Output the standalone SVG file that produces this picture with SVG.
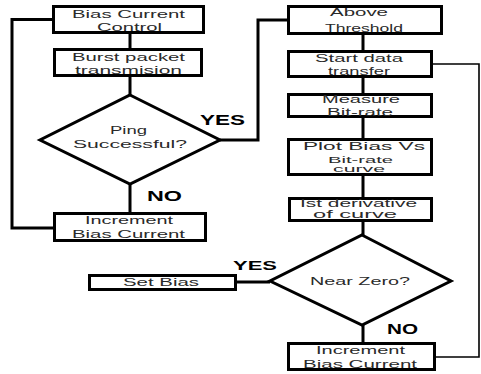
<svg xmlns="http://www.w3.org/2000/svg" width="481" height="374" viewBox="0 0 481 374">
<style>
.box{fill:#fff;stroke:#000;stroke-width:3}
.dia{fill:#fff;stroke:#000;stroke-width:3;stroke-linejoin:miter}
.ln{fill:none;stroke:#000;stroke-width:3}
.thin{fill:none;stroke:#000;stroke-width:1.6}
.t{font-family:"Liberation Sans",Arial,sans-serif;font-size:11px;fill:#2a2a2a}
.s{font-size:10px}
.xs{font-size:9px}
.b{font-family:"Liberation Sans",Arial,sans-serif;font-size:15px;font-weight:bold;fill:#000}
</style>
<rect width="481" height="374" fill="#fff"/>
<g id="connectors">
<path class="ln" d="M130,34V48M130,77V95M130,184V212"/>
<path class="ln" d="M53,228H12V19.5H52"/>
<path class="ln" d="M220,140H258V20H287"/>
<path class="ln" d="M363,35V50M363,78V93M363,118V138M363,176V197M363,222V235M363,325V342"/>
<path class="ln" d="M237,282H270"/>
<path class="thin" d="M436,357H479V64H433"/>
</g>
<g id="bias-current-control">
<rect class="box" x="53.5" y="6.5" width="150" height="26"/>
<text class="t" x="72" y="17.5" textLength="113" lengthAdjust="spacingAndGlyphs">Bias Current</text>
<text class="t" x="97" y="30.5" textLength="65" lengthAdjust="spacingAndGlyphs">Control</text>
</g>
<g id="burst-packet">
<rect class="box" x="54.5" y="49.5" width="147" height="26"/>
<text class="t" x="72" y="61" textLength="113" lengthAdjust="spacingAndGlyphs">Burst packet</text>
<text class="t" x="75" y="73.5" textLength="107" lengthAdjust="spacingAndGlyphs">transmision</text>
</g>
<g id="ping-successful">
<polygon class="dia" points="130,95 220,140 130,184 40,140"/>
<text class="t" x="110" y="134" textLength="37" lengthAdjust="spacingAndGlyphs">Ping</text>
<text class="t" x="73" y="148" textLength="114" lengthAdjust="spacingAndGlyphs">Successful?</text>
<text class="b" x="200" y="125" textLength="45" lengthAdjust="spacingAndGlyphs">YES</text>
<text class="b" x="147" y="201" textLength="35" lengthAdjust="spacingAndGlyphs">NO</text>
</g>
<g id="increment-bias-left">
<rect class="box" x="54.5" y="213.5" width="151" height="27"/>
<text class="t" x="85" y="223.5" textLength="88" lengthAdjust="spacingAndGlyphs">Increment</text>
<text class="t" x="72" y="237.5" textLength="113" lengthAdjust="spacingAndGlyphs">Bias Current</text>
</g>
<g id="above-threshold">
<rect class="box" x="288.5" y="6.5" width="153" height="27"/>
<text class="t s" x="330" y="16" textLength="58" lengthAdjust="spacingAndGlyphs">Above</text>
<text class="t" x="325" y="31.5" textLength="78" lengthAdjust="spacingAndGlyphs">Threshold</text>
</g>
<g id="start-data-transfer">
<rect class="box" x="288.5" y="51.5" width="143" height="25"/>
<text class="t s" x="315" y="61.5" textLength="88" lengthAdjust="spacingAndGlyphs">Start data</text>
<text class="t s" x="328" y="75" textLength="62" lengthAdjust="spacingAndGlyphs">transfer</text>
</g>
<g id="measure-bitrate">
<rect class="box" x="288.5" y="94.5" width="143" height="22"/>
<text class="t s" x="322" y="102.5" textLength="78" lengthAdjust="spacingAndGlyphs">Measure</text>
<text class="t s" x="327" y="116" textLength="66" lengthAdjust="spacingAndGlyphs">Bit-rate</text>
</g>
<g id="plot-bias">
<rect class="box" x="288.5" y="139.5" width="143" height="35"/>
<text class="t" x="303" y="150" textLength="122" lengthAdjust="spacingAndGlyphs">Plot Bias Vs</text>
<text class="t xs" x="328" y="162.5" textLength="65" lengthAdjust="spacingAndGlyphs">Bit-rate</text>
<text class="t xs" x="333" y="172" textLength="52" lengthAdjust="spacingAndGlyphs">curve</text>
</g>
<g id="first-derivative">
<rect class="box" x="289.5" y="198.5" width="142" height="22"/>
<text class="t s" x="300" y="207" textLength="117" lengthAdjust="spacingAndGlyphs">Ist derivative</text>
<text class="t s" x="313" y="218" textLength="84" lengthAdjust="spacingAndGlyphs">of curve</text>
</g>
<g id="near-zero">
<polygon class="dia" points="362,235 451,281 362,325 270,281"/>
<text class="t" x="310" y="284.5" textLength="100" lengthAdjust="spacingAndGlyphs">Near Zero?</text>
<text class="b" x="233" y="270" textLength="44" lengthAdjust="spacingAndGlyphs" style="font-size:13px">YES</text>
<text class="b" x="387" y="333.5" textLength="31" lengthAdjust="spacingAndGlyphs" style="font-size:14px">NO</text>
</g>
<g id="set-bias">
<rect class="box" x="89.5" y="275.5" width="146" height="14"/>
<text class="t" x="123" y="286" textLength="76" lengthAdjust="spacingAndGlyphs">Set Bias</text>
</g>
<g id="increment-bias-right">
<rect class="box" x="288.5" y="343.5" width="146" height="26"/>
<text class="t" x="316" y="353.5" textLength="89" lengthAdjust="spacingAndGlyphs">Increment</text>
<text class="t" x="303" y="368" textLength="114" lengthAdjust="spacingAndGlyphs">Bias Current</text>
</g>
</svg>
